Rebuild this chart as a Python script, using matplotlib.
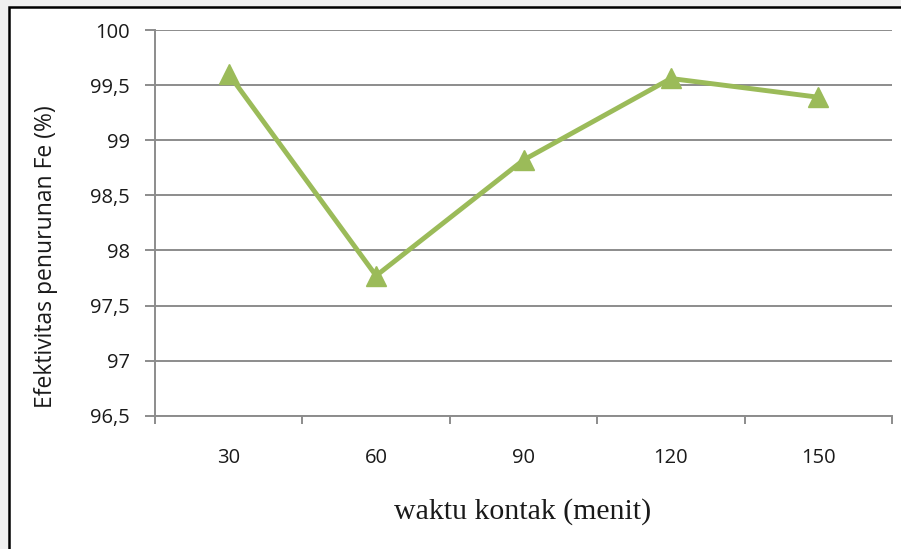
import matplotlib
matplotlib.use("Agg")
import matplotlib.pyplot as plt
from matplotlib.patches import Rectangle
import numpy as np

categories = ["30", "60", "90", "120", "150"]
values = [99.60, 97.77, 98.82, 99.56, 99.39]
y_ticks = [96.5, 97, 97.5, 98, 98.5, 99, 99.5, 100]
y_tick_labels = ["96,5", "97", "97,5", "98", "98,5", "99", "99,5", "100"]

W, H = 901, 549
fig = plt.figure(figsize=(W / 100, H / 100), dpi=100)
fig.patch.set_facecolor("#f0f0f0")

# outer white frame with black border
frame = Rectangle((9 / W, -0.05), 1.05, (H - 7) / H + 0.05, transform=fig.transFigure,
                  facecolor="white", edgecolor="black", linewidth=1.8, zorder=-10)
fig.patches.append(frame)

left, right, top, bottom = 155, 892, 30, 415.7
ax = fig.add_axes([left / W, (H - bottom) / H, (right - left) / W, (bottom - top) / H])
ax.set_zorder(1)
ax.set_facecolor("white")

x = np.arange(len(categories))
ax.plot(x, values, color="#9bbb59", linewidth=3.5, marker="^", markersize=14,
        markeredgecolor="#9bbb59", markerfacecolor="#9bbb59", zorder=3, clip_on=False)

ax.set_xlim(-0.5, len(categories) - 0.5)
ax.set_ylim(96.5, 100)

ax.set_yticks(y_ticks)
ax.set_yticklabels(y_tick_labels)
ax.grid(axis="y", color="#8c8c8c", linewidth=1.4)
ax.set_axisbelow(True)

ax.set_xticks(np.arange(-0.5, len(categories), 1.0))
ax.set_xticklabels([])
ax.set_xticks(x, minor=True)
ax.set_xticklabels(categories, minor=True)
ax.tick_params(axis="x", which="major", direction="out", length=6, width=1.4, color="#8c8c8c")
ax.tick_params(axis="x", which="minor", length=0, pad=23, labelsize=14.5)
ax.tick_params(axis="y", direction="out", length=7, width=1.4, color="#8c8c8c", pad=11,
               labelsize=14.5)
for lab in ax.get_xticklabels(minor=True) + ax.get_yticklabels():
    lab.set_fontfamily("Open Sans")
    lab.set_color("#1a1a1a")

for s in ["top", "right"]:
    ax.spines[s].set_visible(False)
for s in ["left", "bottom"]:
    ax.spines[s].set_color("#8c8c8c")
    ax.spines[s].set_linewidth(1.4)

fig.text(46 / W, 1 - 257 / H, "Efektivitas penurunan Fe (%)", rotation=90, ha="center", va="center",
         fontsize=16.5, fontfamily="Open Sans", color="#1a1a1a")
fig.text(523 / W, 1 - 512 / H, "waktu kontak (menit)", ha="center", va="center",
         fontsize=21.5, fontfamily="Liberation Serif", color="#1a1a1a")

fig.savefig("out.png", dpi=100, facecolor=fig.get_facecolor())
